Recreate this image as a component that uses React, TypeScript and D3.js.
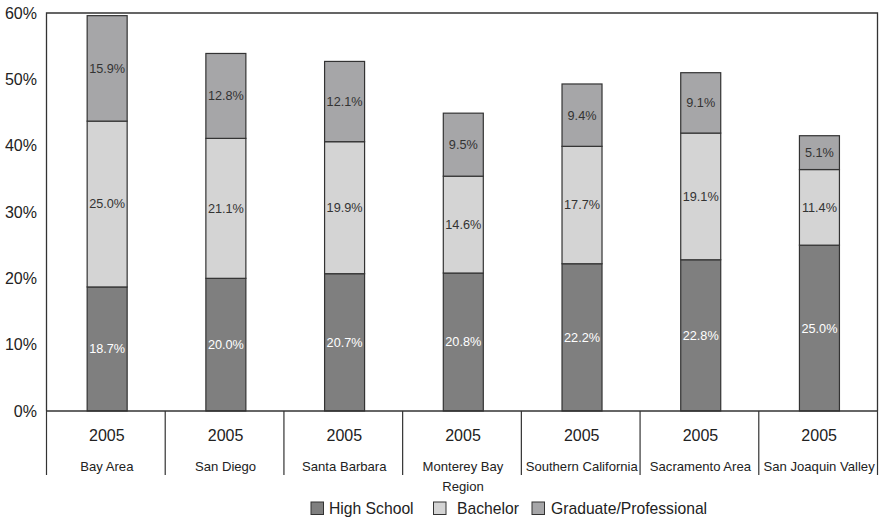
import React from "react";
import * as d3 from "d3";

const regions = [
  ["Bay Area"],
  ["San Diego"],
  ["Santa Barbara"],
  ["Monterey Bay", "Region"],
  ["Southern California"],
  ["Sacramento Area"],
  ["San Joaquin Valley"],
];
const year = "2005";
const highSchool = [18.7, 20.0, 20.7, 20.8, 22.2, 22.8, 25.0];
const bachelor = [25.0, 21.1, 19.9, 14.6, 17.7, 19.1, 11.4];
const graduate = [15.9, 12.8, 12.1, 9.5, 9.4, 9.1, 5.1];
const yTicks = [0, 10, 20, 30, 40, 50, 60];

const seriesNames = ["High School", "Bachelor", "Graduate/Professional"];
const seriesColors = ["#7f7f7f", "#d4d4d4", "#a6a6a8"];
const labelColors = ["#ffffff", "#333333", "#333333"];

const W = 880;
const H = 518;
const left = 46.5;
const right = 877.5;
const top = 13;
const bottom = 411;
const font = "'Liberation Sans', Arial, Helvetica, sans-serif";

export default function App() {
  const x = d3
    .scaleBand<number>()
    .domain(d3.range(regions.length))
    .range([left, right])
    .paddingInner(0)
    .paddingOuter(0);
  const y = d3.scaleLinear().domain([0, 60]).range([bottom, top]);

  const table = regions.map((_, i) => ({
    i,
    hs: highSchool[i],
    ba: bachelor[i],
    gr: graduate[i],
  }));
  const stack = d3.stack<any>().keys(["hs", "ba", "gr"]);
  const layers = stack(table);

  const barW = 40;
  const stroke = "#333";

  const legendItems = [
    { sq: 311, tx: 329 },
    { sq: 433.5, tx: 457 },
    { sq: 532, tx: 551 },
  ];

  return (
    <svg
      width={W}
      height={H}
      style={{ position: "absolute", left: 0, top: 0, background: "#fff" }}
      fontFamily={font}
    >
      {/* stacked bars */}
      {layers.map((layer, s) => (
        <g key={s}>
          {layer.map((d, i) => {
            const cx = (x(i) as number) + x.bandwidth() / 2 + 1.3;
            const y0 = y(d[0]);
            const y1 = y(d[1]);
            const v = d[1] - d[0];
            return (
              <g key={i}>
                <rect
                  x={cx - barW / 2}
                  y={y1}
                  width={barW}
                  height={y0 - y1}
                  fill={seriesColors[s]}
                  stroke={stroke}
                  strokeWidth={1.2}
                />
                <text
                  x={cx}
                  y={(y0 + y1) / 2}
                  dy="0.35em"
                  textAnchor="middle"
                  fontSize={12.7}
                  fill={labelColors[s]}
                >
                  {v.toFixed(1)}%
                </text>
              </g>
            );
          })}
        </g>
      ))}

      {/* plot frame */}
      <path
        d={`M${left},${bottom}V${top}H${right}V${bottom}`}
        fill="none"
        stroke={stroke}
        strokeWidth={1.3}
      />
      <line x1={left} x2={right} y1={bottom} y2={bottom} stroke={stroke} strokeWidth={1.3} />

      {/* y axis labels */}
      {yTicks.map((t) => (
        <text
          key={t}
          x={37}
          y={y(t)}
          dy="0.35em"
          textAnchor="end"
          fontSize={16}
          fill="#222"
        >
          {t}%
        </text>
      ))}

      {/* category dividers */}
      {d3.range(regions.length + 1).map((i) => {
        const xx = i < regions.length ? (x(i) as number) : right;
        return (
          <line
            key={i}
            x1={xx}
            x2={xx}
            y1={bottom}
            y2={475}
            stroke={stroke}
            strokeWidth={1.2}
          />
        );
      })}

      {/* category labels */}
      {regions.map((lines, i) => {
        const cx = (x(i) as number) + x.bandwidth() / 2 + 1;
        return (
          <g key={i}>
            <text x={cx} y={435} dy="0.35em" textAnchor="middle" fontSize={16} fill="#222">
              {year}
            </text>
            {lines.map((ln, k) => (
              <text
                key={k}
                x={cx}
                y={466.5 + k * 19.5}
                dy="0.35em"
                textAnchor="middle"
                fontSize={13.1}
                fill="#222"
              >
                {ln}
              </text>
            ))}
          </g>
        );
      })}

      {/* legend */}
      {legendItems.map((it, s) => (
        <g key={s}>
          <rect
            x={it.sq}
            y={502}
            width={12.5}
            height={12.5}
            fill={seriesColors[s]}
            stroke={stroke}
            strokeWidth={1}
          />
          <text x={it.tx} y={508.5} dy="0.35em" fontSize={15.7} fill="#222">
            {seriesNames[s]}
          </text>
        </g>
      ))}
    </svg>
  );
}
